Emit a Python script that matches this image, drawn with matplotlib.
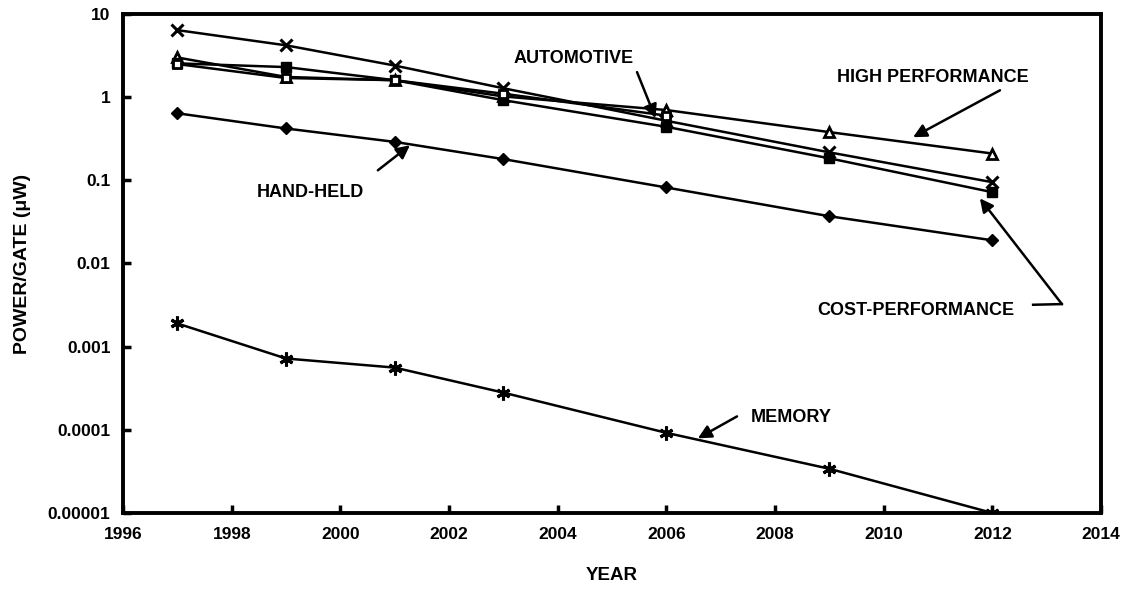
import numpy as np
import matplotlib.pyplot as plt
import matplotlib.ticker as ticker

plt.rcParams['font.family'] = ['Liberation Sans', 'DejaVu Sans']

years = [1997, 1999, 2001, 2003, 2006, 2009, 2012]
years_auto = [1997, 1999, 2001, 2003, 2006]

top_x = [6.4, 4.2, 2.4, 1.28, 0.52, 0.217, 0.095]
high_perf = [3.0, 1.75, 1.6, 1.02, 0.70, 0.38, 0.21]
cost_perf = [2.55, 2.3, 1.6, 0.92, 0.44, 0.184, 0.072]
automotive = [2.5, 1.7, 1.6, 1.1, 0.6]
hand_held = [0.64, 0.42, 0.29, 0.18, 0.082, 0.037, 0.019]
memory = [0.0019, 0.00072, 0.00056, 0.00028, 0.000092, 0.000034, 0.00001]

y_ticks = [10, 1, 0.1, 0.01, 0.001, 0.0001, 0.00001]
y_labels = ["10", "1", "0.1", "0.01", "0.001", "0.0001", "0.00001"]
x_ticks = list(range(1996, 2015, 2))

fig = plt.figure(figsize=(11.31, 5.96), dpi=100)
ax = fig.add_axes([0.1088, 0.1393, 0.8647, 0.8372])

lw = 1.8
ax.plot(years, top_x, color="black", lw=lw, marker="x", ms=9, mew=2.2)
ax.plot(years, high_perf, color="black", lw=lw, marker="^", ms=7, mfc="white", mew=2)
ax.plot(years, cost_perf, color="black", lw=lw, marker="s", ms=7)
ax.plot(years_auto, automotive, color="black", lw=lw, marker="s", ms=6, mfc="white", mew=2)
ax.plot(years, hand_held, color="black", lw=lw, marker="D", ms=6)
ax.plot(years, memory, color="black", lw=lw, marker=(6, 2, 0), ms=10, mew=2.2)

ax.set_yscale("log")
ax.set_xlim(1996, 2014)
ax.set_ylim(0.00001, 10)
ax.set_xticks(x_ticks)
ax.set_yticks(y_ticks)
ax.set_yticklabels(y_labels)
ax.yaxis.set_minor_locator(ticker.NullLocator())
ax.tick_params(direction="in", length=6, width=2.5, labelsize=12.5)
ax.tick_params(axis="y", pad=9)
ax.tick_params(axis="x", pad=10)
for lab in ax.get_xticklabels() + ax.get_yticklabels():
    lab.set_fontweight("bold")
for s in ax.spines.values():
    s.set_linewidth(2.8)

ax.set_xlabel("YEAR", fontsize=13.5, fontweight="bold", labelpad=18)
ax.set_ylabel("POWER/GATE (\u03bcW)", fontsize=14, fontweight="bold", labelpad=12)

arrow = dict(arrowstyle="-|>", color="black", lw=1.8, mutation_scale=20, shrinkA=0, shrinkB=0)
tfont = dict(fontsize=13, fontweight="bold", ha="center", va="center")

ax.text(2004.3, 2.95, "AUTOMOTIVE", **tfont)
ax.annotate("", xy=(2005.8, 0.56), xytext=(2005.46, 2.0), arrowprops=arrow)

ax.text(2010.9, 1.74, "HIGH PERFORMANCE", **tfont)
ax.annotate("", xy=(2010.54, 0.33), xytext=(2012.14, 1.21), arrowprops=arrow)

ax.text(1999.44, 0.072, "HAND-HELD", **tfont)
ax.annotate("", xy=(2001.28, 0.264), xytext=(2000.69, 0.132), arrowprops=arrow)

ax.text(2010.6, 0.0027, "COST-PERFORMANCE", **tfont)
ax.plot([2012.75, 2013.28], [0.00319, 0.00325], color="black", lw=1.8)
ax.annotate("", xy=(2011.77, 0.0607), xytext=(2013.28, 0.00325), arrowprops=arrow)

ax.text(2008.3, 0.000142, "MEMORY", **tfont)
ax.annotate("", xy=(2006.58, 0.000079), xytext=(2007.3, 0.000145), arrowprops=arrow)

fig.savefig("out.png", dpi=100)
